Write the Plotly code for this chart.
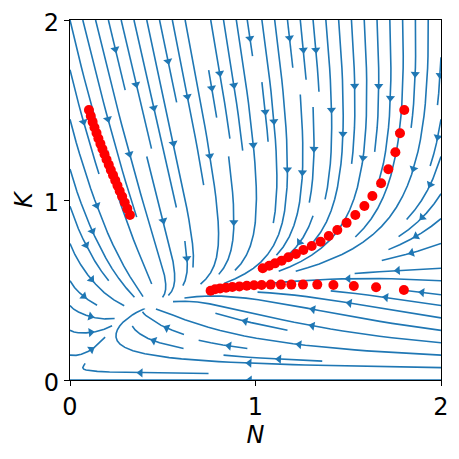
import numpy as np
import plotly.graph_objects as go

# model parameters for the phase portrait
LAM = 5.3
H0 = 0.5
H_EXP = 0.25
K_SAT = 0.7

# red simulated points
n_left = [0.102, 0.112, 0.122, 0.132, 0.143, 0.153, 0.164, 0.175, 0.186, 0.197,
          0.209, 0.220, 0.232, 0.244, 0.256, 0.268, 0.281, 0.295, 0.309, 0.323]
k_left = [1.500, 1.466, 1.434, 1.403, 1.372, 1.342, 1.312, 1.283, 1.254, 1.225,
          1.196, 1.167, 1.138, 1.109, 1.080, 1.050, 1.019, 0.986, 0.952, 0.917]
n_top = [1.802, 1.779, 1.754, 1.716, 1.677, 1.630, 1.587, 1.538, 1.491, 1.441,
         1.395, 1.351, 1.303, 1.258, 1.218, 1.177, 1.141, 1.105, 1.074, 1.039]
k_top = [1.500, 1.371, 1.265, 1.171, 1.093, 1.022, 0.967, 0.917, 0.873, 0.833,
         0.800, 0.768, 0.744, 0.722, 0.700, 0.682, 0.663, 0.648, 0.635, 0.621]
n_bot = [1.800, 1.650, 1.530, 1.420, 1.333, 1.256, 1.193, 1.137, 1.082, 1.033,
         0.992, 0.953, 0.913, 0.875, 0.841, 0.809, 0.782, 0.758]
k_bot = [0.500, 0.515, 0.522, 0.528, 0.530, 0.530, 0.530, 0.530, 0.530, 0.528,
         0.526, 0.524, 0.520, 0.517, 0.513, 0.509, 0.504, 0.496]

tick_vals = [0, 1, 2]


def field(N, K):
    dN = K - N
    dK = LAM * (H0 * N ** H_EXP - K) * K ** 2 / (K ** 2 + K_SAT ** 2)
    return dN, dK


# ---- small port of matplotlib's streamplot algorithm ----
class OutOfBounds(Exception):
    pass


class Terminate(Exception):
    pass


class Invalid(Exception):
    pass


def streamlines(xs, ys, U, V, density=1.0, minlength=0.1, maxlength=4.0):
    nx, ny = len(xs), len(ys)
    ddx, ddy = xs[1] - xs[0], ys[1] - ys[0]
    mnx = mny = int(30 * density)
    mask = np.zeros((mny, mnx), dtype=int)
    gx2m = (mnx - 1) / (nx - 1)
    gy2m = (mny - 1) / (ny - 1)
    u = U / ddx
    v = V / ddy
    speed = np.hypot(u / (nx - 1), v / (ny - 1))
    st = {"traj": [], "cur": None}

    def within(xi, yi):
        return 0 <= xi <= nx - 1 and 0 <= yi <= ny - 1

    def g2m(xi, yi):
        return round(xi * gx2m), round(yi * gy2m)

    def interp(a, xi, yi):
        x = int(xi)
        y = int(yi)
        xn = x if x == nx - 1 else x + 1
        yn = y if y == ny - 1 else y + 1
        xt, yt = xi - x, yi - y
        a0 = a[y, x] * (1 - xt) + a[y, xn] * xt
        a1 = a[yn, x] * (1 - xt) + a[yn, xn] * xt
        return a0 * (1 - yt) + a1 * yt

    def update(xi, yi):
        if not within(xi, yi):
            raise Invalid
        xm, ym = g2m(xi, yi)
        if st["cur"] != (xm, ym):
            if mask[ym, xm] == 0:
                st["traj"].append((ym, xm))
                mask[ym, xm] = 1
                st["cur"] = (xm, ym)
            else:
                raise Invalid

    def fwd(xi, yi):
        if not within(xi, yi):
            raise OutOfBounds
        s = interp(speed, xi, yi)
        if s == 0:
            raise Terminate
        return interp(u, xi, yi) / s, interp(v, xi, yi) / s

    def bwd(xi, yi):
        a, b = fwd(xi, yi)
        return -a, -b

    def euler(traj, f):
        xi, yi = traj[-1]
        cx, cy = f(xi, yi)
        if cx == 0:
            dsx = np.inf
        elif cx < 0:
            dsx = xi / -cx
        else:
            dsx = (nx - 1 - xi) / cx
        if cy == 0:
            dsy = np.inf
        elif cy < 0:
            dsy = yi / -cy
        else:
            dsy = (ny - 1 - yi) / cy
        ds = min(dsx, dsy)
        traj.append((xi + cx * ds, yi + cy * ds))
        return ds

    def rk12(x0, y0, f):
        maxerror = 0.003
        maxds = min(1.0 / mnx, 1.0 / mny, 0.1)
        ds = maxds
        stotal = 0
        xi, yi = x0, y0
        traj = []
        while True:
            try:
                if within(xi, yi):
                    traj.append((xi, yi))
                else:
                    raise OutOfBounds
                k1x, k1y = f(xi, yi)
                k2x, k2y = f(xi + ds * k1x, yi + ds * k1y)
            except OutOfBounds:
                if traj:
                    stotal += euler(traj, f)
                break
            except Terminate:
                break
            dx1, dy1 = ds * k1x, ds * k1y
            dx2, dy2 = ds * 0.5 * (k1x + k2x), ds * 0.5 * (k1y + k2y)
            err = np.hypot((dx2 - dx1) / (nx - 1), (dy2 - dy1) / (ny - 1))
            if err < maxerror:
                xi += dx2
                yi += dy2
                try:
                    update(xi, yi)
                except Invalid:
                    break
                if stotal + ds > maxlength:
                    break
                stotal += ds
            ds = maxds if err == 0 else min(maxds, 0.85 * ds * (maxerror / err) ** 0.5)
        return stotal, traj

    def integrate(x0, y0):
        st["traj"] = []
        try:
            update(x0, y0)
        except Invalid:
            return None
        s1, t1 = rk12(x0, y0, bwd)
        st["cur"] = g2m(x0, y0)
        s2, t2 = rk12(x0, y0, fwd)
        if s1 + s2 > minlength:
            return t1[::-1] + t2[1:]
        for t in st["traj"]:
            mask[t] = 0
        return None

    def starts():
        xfirst, yfirst, xlast, ylast = 0, 1, mnx - 1, mny - 1
        x = y = 0
        d = "right"
        for _ in range(mnx * mny):
            yield x, y
            if d == "right":
                x += 1
                if x >= xlast:
                    xlast -= 1
                    d = "up"
            elif d == "up":
                y += 1
                if y >= ylast:
                    ylast -= 1
                    d = "left"
            elif d == "left":
                x -= 1
                if x <= xfirst:
                    xfirst += 1
                    d = "down"
            else:
                y -= 1
                if y <= yfirst:
                    yfirst += 1
                    d = "right"

    out = []
    for xm, ym in starts():
        if mask[ym, xm] == 0:
            t = integrate(xm / gx2m, ym / gy2m)
            if t is not None:
                a = np.array(t)
                out.append((a[:, 0] * ddx + xs[0], a[:, 1] * ddy + ys[0]))
    return out


n_grid = np.linspace(0, 2, 100)
k_grid = np.linspace(0, 2, 100)
NN, KK = np.meshgrid(n_grid, k_grid)
dN, dK = field(NN, KK)
lines = streamlines(n_grid, k_grid, dN, dK)

lx, ly, ax_, ay_, ang = [], [], [], [], []
PX_N, PX_K = 185.5, 180.0
for tx, ty in lines:
    lx += list(tx) + [None]
    ly += list(ty) + [None]
    s = np.cumsum(np.hypot(np.diff(tx), np.diff(ty)))
    n = np.searchsorted(s, s[-1] / 2.0)
    hx, hy = np.mean(tx[n:n + 2]), np.mean(ty[n:n + 2])
    ddx_, ddy_ = hx - tx[n], hy - ty[n]
    if ddx_ == 0 and ddy_ == 0:
        continue
    ax_.append(hx)
    ay_.append(hy)
    ang.append(np.degrees(np.arctan2(ddx_ * PX_N, ddy_ * PX_K)))

fig = go.Figure()
fig.add_trace(go.Scatter(x=lx, y=ly, mode="lines",
                         line=dict(color="#1f77b4", width=1.6),
                         hoverinfo="skip", showlegend=False))
fig.add_trace(go.Scatter(x=ax_, y=ay_, mode="markers",
                         marker=dict(symbol="triangle-up", size=8, angle=ang,
                                     color="#1f77b4", line=dict(width=0)),
                         hoverinfo="skip", showlegend=False))
for nv, kv in [(n_left, k_left), (n_top, k_top), (n_bot, k_bot)]:
    fig.add_trace(go.Scatter(x=nv, y=kv, mode="markers",
                             marker=dict(color="red", size=10, line=dict(width=0)),
                             showlegend=False))

axis_style = dict(range=[0, 2], tickvals=tick_vals, showgrid=False, zeroline=False,
                  showline=True, mirror=True, linecolor="black", linewidth=1.2,
                  ticks="outside", ticklen=5, tickwidth=1.2, tickcolor="black",
                  automargin=False, ticklabeloverflow="allow",
                  tickfont=dict(family="DejaVu Sans", size=24, color="black"))
fig.update_xaxes(**axis_style, title=dict(text="<i>N</i>", standoff=4,
                 font=dict(family="DejaVu Sans", size=24, color="black")))
fig.update_yaxes(**axis_style, ticklabelshift=3,
                 title=dict(text="<i>K</i>", standoff=4,
                            font=dict(family="DejaVu Sans", size=24, color="black")))
# the page body adds an 8px offset, so margins are shifted to compensate
fig.update_layout(width=459, height=459, autosize=False,
                  margin=dict(l=62, r=26, t=12, b=87),
                  plot_bgcolor="white", paper_bgcolor="white")
fig.write_html("out.html")
